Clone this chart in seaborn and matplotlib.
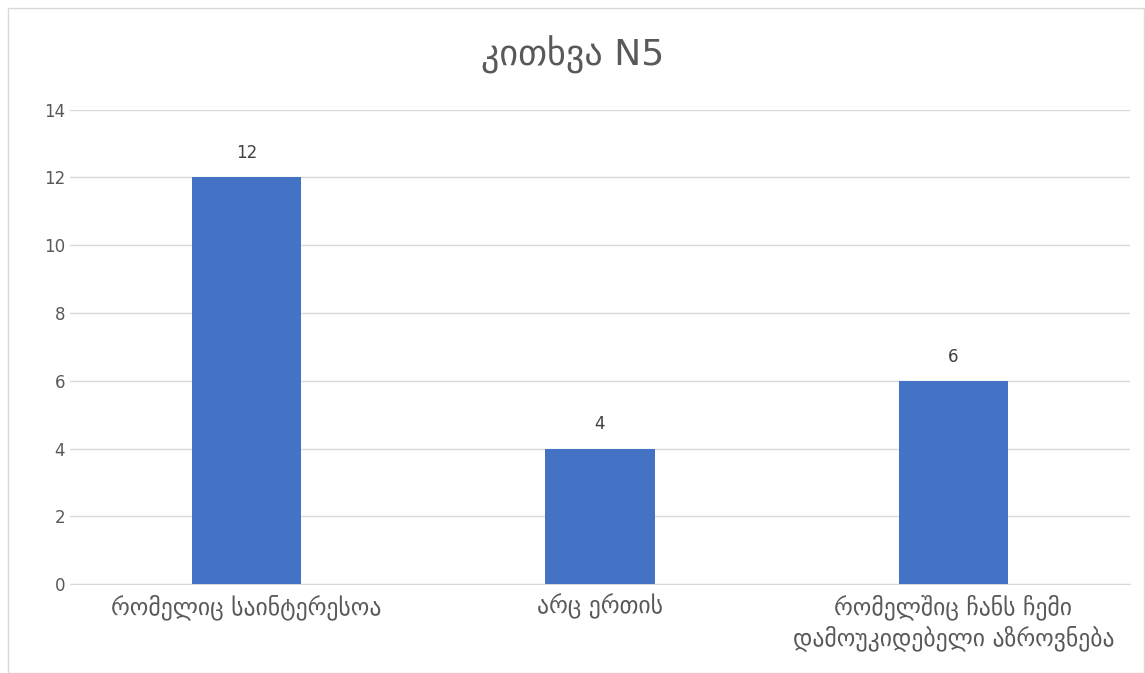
import matplotlib
matplotlib.use("Agg")
import matplotlib.pyplot as plt
import seaborn as sns
import pandas as pd

# მონაცემები
categories = ['რომელიც საინტერესოა', 'არც ერთის', 'რომელშიც ჩანს ჩემი\nდამოუკიდებელი აზროვნება']
values = [12, 4, 6]
yticks = [0, 2, 4, 6, 8, 10, 12, 14]
title = 'კითხვა N5'

df = pd.DataFrame({'cat': categories, 'val': values})

sns.set_style('white')
plt.rcParams['font.family'] = ['DejaVu Sans']

fig = plt.figure(figsize=(11.45, 6.73), dpi=100)
ax = fig.add_axes([0.061, 0.132, 0.926, 0.705])

sns.barplot(data=df, x='cat', y='val', color='#4472C4', width=0.31,
            saturation=1, linewidth=0, ax=ax, zorder=3)

ax.set_ylim(0, 14)
ax.set_xlim(-0.5, 2.5)
ax.set_yticks(yticks)
ax.yaxis.grid(True, color='#D9D9D9', linewidth=1, zorder=0)
ax.set_axisbelow(True)
for s in ['top', 'right', 'left']:
    ax.spines[s].set_visible(False)
ax.spines['bottom'].set_color('#D9D9D9')
ax.tick_params(axis='y', length=0, colors='#595959', labelsize=12)
ax.tick_params(axis='x', length=0, colors='#595959', labelsize=17, pad=7)
for lbl in ax.get_xticklabels():
    lbl.set_linespacing(1.3)
ax.set_xlabel('')
ax.set_ylabel('')

for i, v in enumerate(values):
    ax.text(i, v + 0.45, str(v), ha='center', va='bottom', fontsize=12, color='#404040')

fig.text(0.5, 0.918, title, ha='center', va='center', fontsize=26, color='#595959')

# ჩარჩო
border = plt.Rectangle((0.007, 0.0), 0.992, 0.988, transform=fig.transFigure,
                       fill=False, edgecolor='#D9D9D9', linewidth=1)
fig.patches.append(border)

fig.savefig('out.png', dpi=100)
